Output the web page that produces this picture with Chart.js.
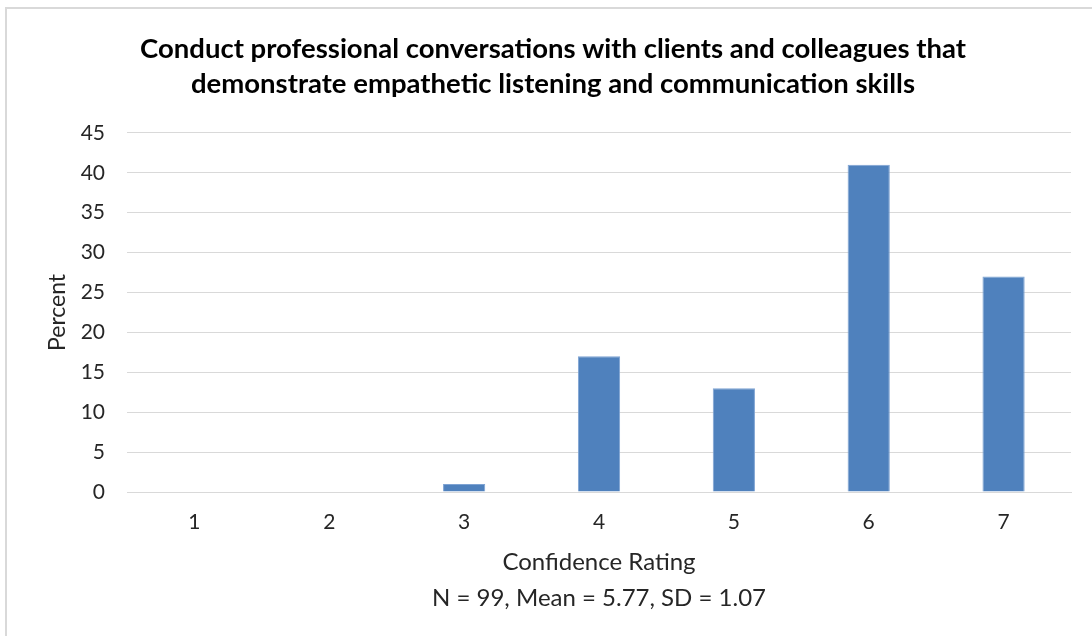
<!DOCTYPE html>
<html>
<head>
<meta charset="utf-8">
<script src="https://cdn.jsdelivr.net/npm/chart.js@4.4.1/dist/chart.umd.min.js"></script>
<style>
  html, body { margin: 0; padding: 0; background: #fff; }
  #frame {
    position: absolute; left: 5px; top: 7px; width: 1200px; height: 700px;
    border-left: 2px solid #d9d9d9; border-top: 2px solid #d9d9d9;
  }
  #wrap { position: absolute; left: 0; top: 0; width: 1092px; height: 636px; }
</style>
</head>
<body>
<div id="frame"></div>
<div id="wrap"><canvas id="chart" width="1092" height="636"></canvas></div>
<script>
// datos
const ratings = ['1', '2', '3', '4', '5', '6', '7'];
const percents = [0, 0, 1, 17, 13, 41, 27];
const titleLines = [
  'Conduct professional conversations with clients and colleagues that',
  'demonstrate empathetic listening and communication skills'
];
const xTitleLines = ['Confidence Rating', 'N = 99, Mean = 5.77, SD = 1.07'];

const FONT = 'Lato, "Open Sans", sans-serif';

const ctx = document.getElementById('chart').getContext('2d');
new Chart(ctx, {
  type: 'bar',
  data: {
    labels: ratings,
    datasets: [{
      label: 'Percent',
      data: percents,
      backgroundColor: '#4f81bd',
      borderColor: '#7ea3d3',
      borderWidth: 1,
      barPercentage: 0.313,
      categoryPercentage: 1
    }]
  },
  options: {
    responsive: false,
    animation: false,
    layout: { padding: { left: 35, right: 21, top: 0, bottom: 0 } },
    plugins: {
      legend: { display: false },
      tooltip: { enabled: false },
      title: {
        display: true,
        text: titleLines,
        color: '#000',
        font: { family: FONT, size: 27.5, weight: 'bold', lineHeight: 1.27 },
        padding: { top: 32, bottom: 31 }
      }
    },
    scales: {
      x: {
        grid: { display: false, drawTicks: false },
        border: { color: '#d9d9d9', width: 1 },
        ticks: { color: '#262626', font: { family: FONT, size: 21 }, padding: 18 },
        title: {
          display: true,
          text: xTitleLines,
          color: '#262626',
          font: { family: FONT, size: 24, lineHeight: 1.5 },
          padding: { top: 4, bottom: 20 }
        },
        afterFit: (scale) => { scale.height = 144; }
      },
      y: {
        min: 0,
        max: 45,
        ticks: { stepSize: 5, color: '#262626', font: { family: FONT, size: 21 }, padding: 22 },
        grid: { color: '#d9d9d9', lineWidth: 1, drawTicks: false },
        border: { display: false },
        title: {
          display: true,
          text: 'Percent',
          color: '#262626',
          font: { family: FONT, size: 23 },
          padding: { top: 9, bottom: 4 }
        },
        afterFit: (scale) => { scale.width = 92; }
      }
    }
  }
});
</script>
</body>
</html>
